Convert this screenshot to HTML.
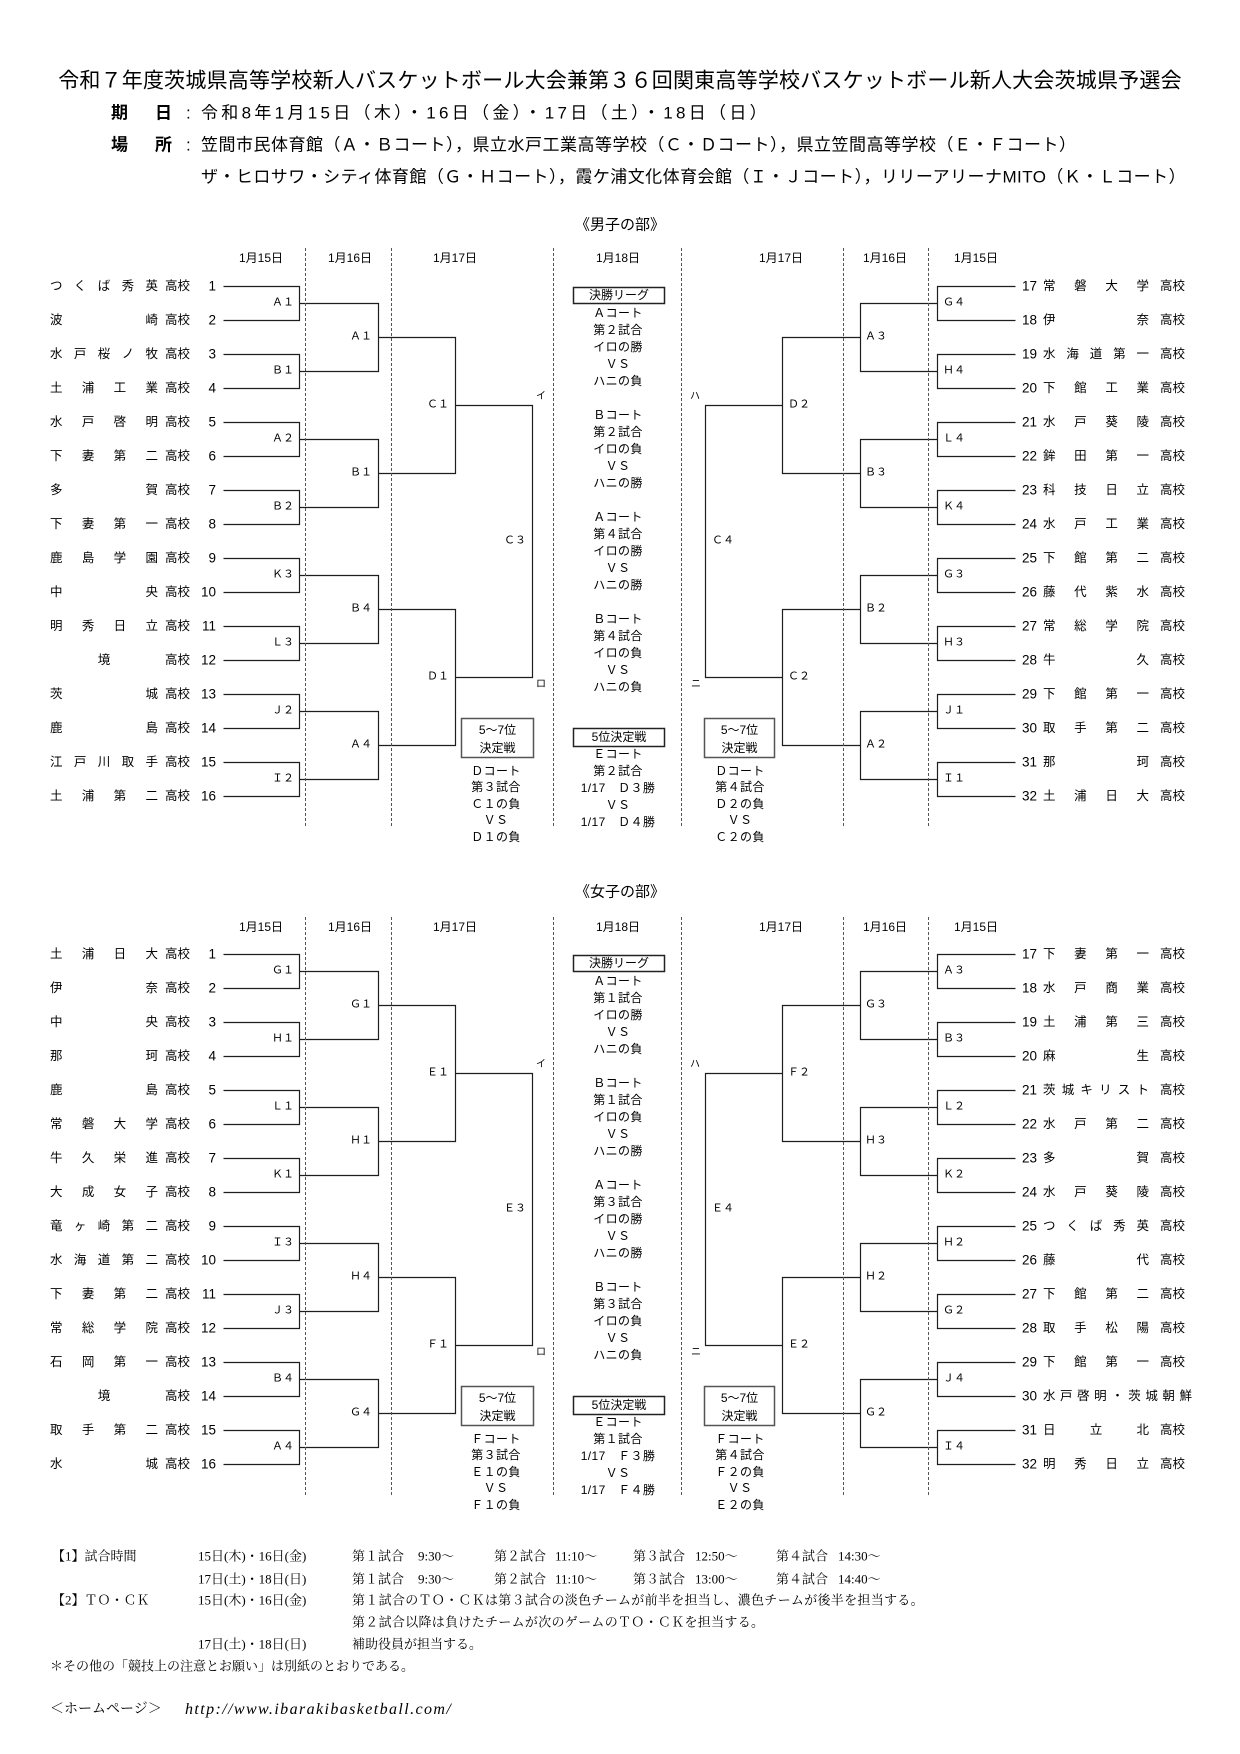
<!DOCTYPE html>
<html><head><meta charset="utf-8">
<style>
*{margin:0;padding:0;box-sizing:border-box}
body{width:1240px;height:1754px;position:relative;background:#fff;color:#000;overflow:hidden;
font-family:"Liberation Sans","Noto Sans CJK JP",sans-serif}
.a{position:absolute;white-space:nowrap;line-height:1}
.L{transform:translate(0,-50%)}
.R{transform:translate(-100%,-50%)}
.C{transform:translate(-50%,-50%)}
.row{position:absolute;left:0;width:0;height:0}
.nm{position:absolute;left:50px;width:108px;font-size:12.5px;line-height:1;text-align:justify;text-align-last:justify;transform:translateY(-50%)}
.nm2{position:absolute;left:1043px;width:106px;font-size:12.5px;line-height:1;text-align:justify;text-align-last:justify;transform:translateY(-50%)}
.cc{text-align:center;text-align-last:center}
.hk{position:absolute;left:165px;font-size:12.5px;line-height:1;transform:translateY(-50%);white-space:nowrap}
.hk2{position:absolute;left:1160px;font-size:12.5px;line-height:1;transform:translateY(-50%);white-space:nowrap}
.no{position:absolute;left:216px;font-size:13.5px;line-height:1;transform:translate(-100%,-50%)}
.no2{position:absolute;left:1022px;font-size:13.5px;line-height:1;transform:translateY(-50%)}
.lb{font-size:11px}
.dt{font-size:12px}
.mk{font-size:10px}
.mid{position:absolute;left:548px;width:140px;text-align:center;font-size:12px;line-height:17px;letter-spacing:0.4px}
.side{position:absolute;width:110px;text-align:center;font-size:12px;line-height:16.5px;letter-spacing:0.4px}
.bx{position:absolute;text-align:center;font-size:12px;line-height:18px}
.ft{font-family:"Liberation Serif","Noto Serif CJK SC",serif;font-size:13px}
</style></head><body>

<svg width="1240" height="1754" style="position:absolute;left:0;top:0">
<g fill="none" stroke="#1e1e1e" stroke-width="1.2" transform="translate(0.5,0.5)">
<g>
<path d="M223 286H299V320H223M223 354H299V388H223M223 422H299V456H223M223 490H299V524H223M223 558H299V592H223M223 626H299V660H223M223 694H299V728H223M223 762H299V796H223"/>
<path d="M299 303H378V371H299M299 439H378V507H299M299 575H378V643H299M299 711H378V779H299"/>
<path d="M378 337H455V473H378M378 609H455V745H378"/>
<path d="M455 405H532V677H455"/>
<path d="M1015 286H937V320H1015M1015 354H937V388H1015M1015 422H937V456H1015M1015 490H937V524H1015M1015 558H937V592H1015M1015 626H937V660H1015M1015 694H937V728H1015M1015 762H937V796H1015"/>
<path d="M937 303H860V371H937M937 439H860V507H937M937 575H860V643H937M937 711H860V779H937"/>
<path d="M860 337H782V473H860M860 609H782V745H860"/>
<path d="M782 405H705V677H782"/>
</g>
<g transform="translate(0,668)">
<path d="M223 286H299V320H223M223 354H299V388H223M223 422H299V456H223M223 490H299V524H223M223 558H299V592H223M223 626H299V660H223M223 694H299V728H223M223 762H299V796H223"/>
<path d="M299 303H378V371H299M299 439H378V507H299M299 575H378V643H299M299 711H378V779H299"/>
<path d="M378 337H455V473H378M378 609H455V745H378"/>
<path d="M455 405H532V677H455"/>
<path d="M1015 286H937V320H1015M1015 354H937V388H1015M1015 422H937V456H1015M1015 490H937V524H1015M1015 558H937V592H1015M1015 626H937V660H1015M1015 694H937V728H1015M1015 762H937V796H1015"/>
<path d="M937 303H860V371H937M937 439H860V507H937M937 575H860V643H937M937 711H860V779H937"/>
<path d="M860 337H782V473H860M860 609H782V745H860"/>
<path d="M782 405H705V677H782"/>
</g>
</g>
<g stroke="#555" stroke-width="1" stroke-dasharray="3 2">
<path d="M305.5 248V826M391.5 248V826M553.5 248V826M681.5 248V826M843.5 248V826M928.5 248V826"/>
<path d="M305.5 917V1495M391.5 917V1495M553.5 917V1495M681.5 917V1495M843.5 917V1495M928.5 917V1495"/>
</g>
<g fill="none" stroke-width="1.5">
<rect x="573.5" y="287.5" width="91" height="16" stroke="#222"/>
<rect x="573.5" y="728.5" width="91" height="18" stroke="#222"/>
<rect x="461.5" y="718.5" width="72" height="39" stroke="#555"/>
<rect x="704.5" y="718.5" width="70" height="39" stroke="#555"/>
<rect x="573.5" y="955.5" width="91" height="16" stroke="#222"/>
<rect x="573.5" y="1396.5" width="91" height="18" stroke="#222"/>
<rect x="461.5" y="1386.5" width="72" height="39" stroke="#555"/>
<rect x="704.5" y="1386.5" width="70" height="39" stroke="#555"/>
</g>
</svg>

<!-- Header -->
<div class="a" style="left:0;width:1240px;top:81px;transform:translateY(-50%);text-align:center;font-size:21px;letter-spacing:0.2px">令和７年度茨城県高等学校新人バスケットボール大会兼第３６回関東高等学校バスケットボール新人大会茨城県予選会</div>
<div class="a L" style="left:111px;top:113px;font-size:17px;font-weight:bold">期</div>
<div class="a L" style="left:155px;top:113px;font-size:17px;font-weight:bold">日</div>
<div class="a L" style="left:186px;top:113px;font-size:17px">:</div>
<div class="a L" style="left:201px;top:113px;font-size:17px;letter-spacing:3.3px">令和8年1月15日（木）・16日（金）・17日（土）・18日（日）</div>
<div class="a L" style="left:111px;top:145px;font-size:17px;font-weight:bold">場</div>
<div class="a L" style="left:155px;top:145px;font-size:17px;font-weight:bold">所</div>
<div class="a L" style="left:186px;top:145px;font-size:17px">:</div>
<div class="a L" style="left:201px;top:145px;font-size:17px;letter-spacing:0.5px">笠間市民体育館（Ａ・Ｂコート），県立水戸工業高等学校（Ｃ・Ｄコート），県立笠間高等学校（Ｅ・Ｆコート）</div>
<div class="a L" style="left:201px;top:177px;font-size:17px;letter-spacing:0.45px">ザ・ヒロサワ・シティ体育館（Ｇ・Ｈコート），霞ケ浦文化体育会館（Ｉ・Ｊコート），リリーアリーナMITO（Ｋ・Ｌコート）</div>

<!-- Men's section -->
<div class="a C" style="left:620px;top:225px;font-size:15px">《男子の部》</div>
<div class="a C dt" style="left:261px;top:258px">1月15日</div>
<div class="a C dt" style="left:350px;top:258px">1月16日</div>
<div class="a C dt" style="left:455px;top:258px">1月17日</div>
<div class="a C dt" style="left:618px;top:258px">1月18日</div>
<div class="a C dt" style="left:781px;top:258px">1月17日</div>
<div class="a C dt" style="left:885px;top:258px">1月16日</div>
<div class="a C dt" style="left:976px;top:258px">1月15日</div>

<div class="row" style="top:286px"><div class="nm">つ く ば 秀 英</div><div class="hk">高校</div><div class="no">1</div></div>
<div class="row" style="top:320px"><div class="nm">波 崎</div><div class="hk">高校</div><div class="no">2</div></div>
<div class="row" style="top:354px"><div class="nm">水 戸 桜 ノ 牧</div><div class="hk">高校</div><div class="no">3</div></div>
<div class="row" style="top:388px"><div class="nm">土 浦 工 業</div><div class="hk">高校</div><div class="no">4</div></div>
<div class="row" style="top:422px"><div class="nm">水 戸 啓 明</div><div class="hk">高校</div><div class="no">5</div></div>
<div class="row" style="top:456px"><div class="nm">下 妻 第 二</div><div class="hk">高校</div><div class="no">6</div></div>
<div class="row" style="top:490px"><div class="nm">多 賀</div><div class="hk">高校</div><div class="no">7</div></div>
<div class="row" style="top:524px"><div class="nm">下 妻 第 一</div><div class="hk">高校</div><div class="no">8</div></div>
<div class="row" style="top:558px"><div class="nm">鹿 島 学 園</div><div class="hk">高校</div><div class="no">9</div></div>
<div class="row" style="top:592px"><div class="nm">中 央</div><div class="hk">高校</div><div class="no">10</div></div>
<div class="row" style="top:626px"><div class="nm">明 秀 日 立</div><div class="hk">高校</div><div class="no">11</div></div>
<div class="row" style="top:660px"><div class="nm cc">境</div><div class="hk">高校</div><div class="no">12</div></div>
<div class="row" style="top:694px"><div class="nm">茨 城</div><div class="hk">高校</div><div class="no">13</div></div>
<div class="row" style="top:728px"><div class="nm">鹿 島</div><div class="hk">高校</div><div class="no">14</div></div>
<div class="row" style="top:762px"><div class="nm">江 戸 川 取 手</div><div class="hk">高校</div><div class="no">15</div></div>
<div class="row" style="top:796px"><div class="nm">土 浦 第 二</div><div class="hk">高校</div><div class="no">16</div></div>

<div class="row" style="top:286px"><div class="no2">17</div><div class="nm2">常 磐 大 学</div><div class="hk2">高校</div></div>
<div class="row" style="top:320px"><div class="no2">18</div><div class="nm2">伊 奈</div><div class="hk2">高校</div></div>
<div class="row" style="top:354px"><div class="no2">19</div><div class="nm2">水 海 道 第 一</div><div class="hk2">高校</div></div>
<div class="row" style="top:388px"><div class="no2">20</div><div class="nm2">下 館 工 業</div><div class="hk2">高校</div></div>
<div class="row" style="top:422px"><div class="no2">21</div><div class="nm2">水 戸 葵 陵</div><div class="hk2">高校</div></div>
<div class="row" style="top:456px"><div class="no2">22</div><div class="nm2">鉾 田 第 一</div><div class="hk2">高校</div></div>
<div class="row" style="top:490px"><div class="no2">23</div><div class="nm2">科 技 日 立</div><div class="hk2">高校</div></div>
<div class="row" style="top:524px"><div class="no2">24</div><div class="nm2">水 戸 工 業</div><div class="hk2">高校</div></div>
<div class="row" style="top:558px"><div class="no2">25</div><div class="nm2">下 館 第 二</div><div class="hk2">高校</div></div>
<div class="row" style="top:592px"><div class="no2">26</div><div class="nm2">藤 代 紫 水</div><div class="hk2">高校</div></div>
<div class="row" style="top:626px"><div class="no2">27</div><div class="nm2">常 総 学 院</div><div class="hk2">高校</div></div>
<div class="row" style="top:660px"><div class="no2">28</div><div class="nm2">牛 久</div><div class="hk2">高校</div></div>
<div class="row" style="top:694px"><div class="no2">29</div><div class="nm2">下 館 第 一</div><div class="hk2">高校</div></div>
<div class="row" style="top:728px"><div class="no2">30</div><div class="nm2">取 手 第 二</div><div class="hk2">高校</div></div>
<div class="row" style="top:762px"><div class="no2">31</div><div class="nm2">那 珂</div><div class="hk2">高校</div></div>
<div class="row" style="top:796px"><div class="no2">32</div><div class="nm2">土 浦 日 大</div><div class="hk2">高校</div></div>

<!-- men's labels left -->
<div class="a R lb" style="left:294px;top:303px">Ａ１</div>
<div class="a R lb" style="left:294px;top:371px">Ｂ１</div>
<div class="a R lb" style="left:294px;top:439px">Ａ２</div>
<div class="a R lb" style="left:294px;top:507px">Ｂ２</div>
<div class="a R lb" style="left:294px;top:575px">Ｋ３</div>
<div class="a R lb" style="left:294px;top:643px">Ｌ３</div>
<div class="a R lb" style="left:294px;top:711px">Ｊ２</div>
<div class="a R lb" style="left:294px;top:779px">Ｉ２</div>
<div class="a R lb" style="left:372px;top:337px">Ａ１</div>
<div class="a R lb" style="left:372px;top:473px">Ｂ１</div>
<div class="a R lb" style="left:372px;top:609px">Ｂ４</div>
<div class="a R lb" style="left:372px;top:745px">Ａ４</div>
<div class="a R lb" style="left:449px;top:405px">Ｃ１</div>
<div class="a R lb" style="left:449px;top:677px">Ｄ１</div>
<div class="a R lb" style="left:526px;top:541px">Ｃ３</div>
<!-- men's labels right -->
<div class="a L lb" style="left:943px;top:303px">Ｇ４</div>
<div class="a L lb" style="left:943px;top:371px">Ｈ４</div>
<div class="a L lb" style="left:943px;top:439px">Ｌ４</div>
<div class="a L lb" style="left:943px;top:507px">Ｋ４</div>
<div class="a L lb" style="left:943px;top:575px">Ｇ３</div>
<div class="a L lb" style="left:943px;top:643px">Ｈ３</div>
<div class="a L lb" style="left:943px;top:711px">Ｊ１</div>
<div class="a L lb" style="left:943px;top:779px">Ｉ１</div>
<div class="a L lb" style="left:865px;top:337px">Ａ３</div>
<div class="a L lb" style="left:865px;top:473px">Ｂ３</div>
<div class="a L lb" style="left:865px;top:609px">Ｂ２</div>
<div class="a L lb" style="left:865px;top:745px">Ａ２</div>
<div class="a L lb" style="left:788px;top:405px">Ｄ２</div>
<div class="a L lb" style="left:788px;top:677px">Ｃ２</div>
<div class="a L lb" style="left:712px;top:541px">Ｃ４</div>
<div class="a C mk" style="left:541px;top:397px">イ</div>
<div class="a C mk" style="left:541px;top:685px">ロ</div>
<div class="a C mk" style="left:695px;top:397px">ハ</div>
<div class="a C mk" style="left:696px;top:685px">ニ</div>

<!-- men's middle -->
<div class="bx" style="left:573px;width:92px;top:286px;height:18px">決勝リーグ</div>
<div class="mid" style="top:304.5px">Ａコート<br>第２試合<br>イロの勝<br>ＶＳ<br>ハニの負<br>&nbsp;<br>Ｂコート<br>第２試合<br>イロの負<br>ＶＳ<br>ハニの勝<br>&nbsp;<br>Ａコート<br>第４試合<br>イロの勝<br>ＶＳ<br>ハニの勝<br>&nbsp;<br>Ｂコート<br>第４試合<br>イロの負<br>ＶＳ<br>ハニの負</div>
<div class="bx" style="left:573px;width:92px;top:728px;height:19px">5位決定戦</div>
<div class="mid" style="top:745.5px">Ｅコート<br>第２試合<br>1/17　Ｄ３勝<br>ＶＳ<br>1/17　Ｄ４勝</div>
<div class="bx" style="left:461px;width:73px;top:721px">5〜7位<br>決定戦</div>
<div class="side" style="left:441px;top:762.5px">Ｄコート<br>第３試合<br>Ｃ１の負<br>ＶＳ<br>Ｄ１の負</div>
<div class="bx" style="left:704px;width:71px;top:721px">5〜7位<br>決定戦</div>
<div class="side" style="left:685px;top:762.5px">Ｄコート<br>第４試合<br>Ｄ２の負<br>ＶＳ<br>Ｃ２の負</div>

<!-- Women's section -->
<div class="a C" style="left:620px;top:892px;font-size:15px">《女子の部》</div>
<div class="a C dt" style="left:261px;top:927px">1月15日</div>
<div class="a C dt" style="left:350px;top:927px">1月16日</div>
<div class="a C dt" style="left:455px;top:927px">1月17日</div>
<div class="a C dt" style="left:618px;top:927px">1月18日</div>
<div class="a C dt" style="left:781px;top:927px">1月17日</div>
<div class="a C dt" style="left:885px;top:927px">1月16日</div>
<div class="a C dt" style="left:976px;top:927px">1月15日</div>

<div class="row" style="top:954px"><div class="nm">土 浦 日 大</div><div class="hk">高校</div><div class="no">1</div></div>
<div class="row" style="top:988px"><div class="nm">伊 奈</div><div class="hk">高校</div><div class="no">2</div></div>
<div class="row" style="top:1022px"><div class="nm">中 央</div><div class="hk">高校</div><div class="no">3</div></div>
<div class="row" style="top:1056px"><div class="nm">那 珂</div><div class="hk">高校</div><div class="no">4</div></div>
<div class="row" style="top:1090px"><div class="nm">鹿 島</div><div class="hk">高校</div><div class="no">5</div></div>
<div class="row" style="top:1124px"><div class="nm">常 磐 大 学</div><div class="hk">高校</div><div class="no">6</div></div>
<div class="row" style="top:1158px"><div class="nm">牛 久 栄 進</div><div class="hk">高校</div><div class="no">7</div></div>
<div class="row" style="top:1192px"><div class="nm">大 成 女 子</div><div class="hk">高校</div><div class="no">8</div></div>
<div class="row" style="top:1226px"><div class="nm">竜 ヶ 崎 第 二</div><div class="hk">高校</div><div class="no">9</div></div>
<div class="row" style="top:1260px"><div class="nm">水 海 道 第 二</div><div class="hk">高校</div><div class="no">10</div></div>
<div class="row" style="top:1294px"><div class="nm">下 妻 第 二</div><div class="hk">高校</div><div class="no">11</div></div>
<div class="row" style="top:1328px"><div class="nm">常 総 学 院</div><div class="hk">高校</div><div class="no">12</div></div>
<div class="row" style="top:1362px"><div class="nm">石 岡 第 一</div><div class="hk">高校</div><div class="no">13</div></div>
<div class="row" style="top:1396px"><div class="nm cc">境</div><div class="hk">高校</div><div class="no">14</div></div>
<div class="row" style="top:1430px"><div class="nm">取 手 第 二</div><div class="hk">高校</div><div class="no">15</div></div>
<div class="row" style="top:1464px"><div class="nm">水 城</div><div class="hk">高校</div><div class="no">16</div></div>

<div class="row" style="top:954px"><div class="no2">17</div><div class="nm2">下 妻 第 一</div><div class="hk2">高校</div></div>
<div class="row" style="top:988px"><div class="no2">18</div><div class="nm2">水 戸 商 業</div><div class="hk2">高校</div></div>
<div class="row" style="top:1022px"><div class="no2">19</div><div class="nm2">土 浦 第 三</div><div class="hk2">高校</div></div>
<div class="row" style="top:1056px"><div class="no2">20</div><div class="nm2">麻 生</div><div class="hk2">高校</div></div>
<div class="row" style="top:1090px"><div class="no2">21</div><div class="nm2">茨 城 キ リ ス ト</div><div class="hk2">高校</div></div>
<div class="row" style="top:1124px"><div class="no2">22</div><div class="nm2">水 戸 第 二</div><div class="hk2">高校</div></div>
<div class="row" style="top:1158px"><div class="no2">23</div><div class="nm2">多 賀</div><div class="hk2">高校</div></div>
<div class="row" style="top:1192px"><div class="no2">24</div><div class="nm2">水 戸 葵 陵</div><div class="hk2">高校</div></div>
<div class="row" style="top:1226px"><div class="no2">25</div><div class="nm2">つ く ば 秀 英</div><div class="hk2">高校</div></div>
<div class="row" style="top:1260px"><div class="no2">26</div><div class="nm2">藤 代</div><div class="hk2">高校</div></div>
<div class="row" style="top:1294px"><div class="no2">27</div><div class="nm2">下 館 第 二</div><div class="hk2">高校</div></div>
<div class="row" style="top:1328px"><div class="no2">28</div><div class="nm2">取 手 松 陽</div><div class="hk2">高校</div></div>
<div class="row" style="top:1362px"><div class="no2">29</div><div class="nm2">下 館 第 一</div><div class="hk2">高校</div></div>
<div class="row" style="top:1396px"><div class="no2">30</div><div class="nm2" style="width:149px">水 戸 啓 明 ・ 茨 城 朝 鮮</div></div>
<div class="row" style="top:1430px"><div class="no2">31</div><div class="nm2">日 立 北</div><div class="hk2">高校</div></div>
<div class="row" style="top:1464px"><div class="no2">32</div><div class="nm2">明 秀 日 立</div><div class="hk2">高校</div></div>

<!-- women's labels left -->
<div class="a R lb" style="left:294px;top:971px">Ｇ１</div>
<div class="a R lb" style="left:294px;top:1039px">Ｈ１</div>
<div class="a R lb" style="left:294px;top:1107px">Ｌ１</div>
<div class="a R lb" style="left:294px;top:1175px">Ｋ１</div>
<div class="a R lb" style="left:294px;top:1243px">Ｉ３</div>
<div class="a R lb" style="left:294px;top:1311px">Ｊ３</div>
<div class="a R lb" style="left:294px;top:1379px">Ｂ４</div>
<div class="a R lb" style="left:294px;top:1447px">Ａ４</div>
<div class="a R lb" style="left:372px;top:1005px">Ｇ１</div>
<div class="a R lb" style="left:372px;top:1141px">Ｈ１</div>
<div class="a R lb" style="left:372px;top:1277px">Ｈ４</div>
<div class="a R lb" style="left:372px;top:1413px">Ｇ４</div>
<div class="a R lb" style="left:449px;top:1073px">Ｅ１</div>
<div class="a R lb" style="left:449px;top:1345px">Ｆ１</div>
<div class="a R lb" style="left:526px;top:1209px">Ｅ３</div>
<!-- women's labels right -->
<div class="a L lb" style="left:943px;top:971px">Ａ３</div>
<div class="a L lb" style="left:943px;top:1039px">Ｂ３</div>
<div class="a L lb" style="left:943px;top:1107px">Ｌ２</div>
<div class="a L lb" style="left:943px;top:1175px">Ｋ２</div>
<div class="a L lb" style="left:943px;top:1243px">Ｈ２</div>
<div class="a L lb" style="left:943px;top:1311px">Ｇ２</div>
<div class="a L lb" style="left:943px;top:1379px">Ｊ４</div>
<div class="a L lb" style="left:943px;top:1447px">Ｉ４</div>
<div class="a L lb" style="left:865px;top:1005px">Ｇ３</div>
<div class="a L lb" style="left:865px;top:1141px">Ｈ３</div>
<div class="a L lb" style="left:865px;top:1277px">Ｈ２</div>
<div class="a L lb" style="left:865px;top:1413px">Ｇ２</div>
<div class="a L lb" style="left:788px;top:1073px">Ｆ２</div>
<div class="a L lb" style="left:788px;top:1345px">Ｅ２</div>
<div class="a L lb" style="left:712px;top:1209px">Ｅ４</div>
<div class="a C mk" style="left:541px;top:1065px">イ</div>
<div class="a C mk" style="left:541px;top:1353px">ロ</div>
<div class="a C mk" style="left:695px;top:1065px">ハ</div>
<div class="a C mk" style="left:696px;top:1353px">ニ</div>

<!-- women's middle -->
<div class="bx" style="left:573px;width:92px;top:954px;height:18px">決勝リーグ</div>
<div class="mid" style="top:972.5px">Ａコート<br>第１試合<br>イロの勝<br>ＶＳ<br>ハニの負<br>&nbsp;<br>Ｂコート<br>第１試合<br>イロの負<br>ＶＳ<br>ハニの勝<br>&nbsp;<br>Ａコート<br>第３試合<br>イロの勝<br>ＶＳ<br>ハニの勝<br>&nbsp;<br>Ｂコート<br>第３試合<br>イロの負<br>ＶＳ<br>ハニの負</div>
<div class="bx" style="left:573px;width:92px;top:1396px;height:19px">5位決定戦</div>
<div class="mid" style="top:1413.5px">Ｅコート<br>第１試合<br>1/17　Ｆ３勝<br>ＶＳ<br>1/17　Ｆ４勝</div>
<div class="bx" style="left:461px;width:73px;top:1389px">5〜7位<br>決定戦</div>
<div class="side" style="left:441px;top:1430.5px">Ｆコート<br>第３試合<br>Ｅ１の負<br>ＶＳ<br>Ｆ１の負</div>
<div class="bx" style="left:704px;width:71px;top:1389px">5〜7位<br>決定戦</div>
<div class="side" style="left:685px;top:1430.5px">Ｆコート<br>第４試合<br>Ｆ２の負<br>ＶＳ<br>Ｅ２の負</div>

<!-- Footer -->
<div class="a L ft" style="left:52px;top:1556px">【1】試合時間</div>
<div class="a L ft" style="left:198px;top:1556px">15日(木)・16日(金)</div>
<div class="a L ft" style="left:352px;top:1556px">第１試合</div>
<div class="a L ft" style="left:418px;top:1556px">9:30〜</div>
<div class="a L ft" style="left:494px;top:1556px">第２試合</div>
<div class="a L ft" style="left:555px;top:1556px">11:10〜</div>
<div class="a L ft" style="left:633px;top:1556px">第３試合</div>
<div class="a L ft" style="left:695px;top:1556px">12:50〜</div>
<div class="a L ft" style="left:776px;top:1556px">第４試合</div>
<div class="a L ft" style="left:838px;top:1556px">14:30〜</div>

<div class="a L ft" style="left:198px;top:1579px">17日(土)・18日(日)</div>
<div class="a L ft" style="left:352px;top:1579px">第１試合</div>
<div class="a L ft" style="left:418px;top:1579px">9:30〜</div>
<div class="a L ft" style="left:494px;top:1579px">第２試合</div>
<div class="a L ft" style="left:555px;top:1579px">11:10〜</div>
<div class="a L ft" style="left:633px;top:1579px">第３試合</div>
<div class="a L ft" style="left:695px;top:1579px">13:00〜</div>
<div class="a L ft" style="left:776px;top:1579px">第４試合</div>
<div class="a L ft" style="left:838px;top:1579px">14:40〜</div>

<div class="a L ft" style="left:52px;top:1600px">【2】ＴＯ・ＣＫ</div>
<div class="a L ft" style="left:198px;top:1600px">15日(木)・16日(金)</div>
<div class="a L ft" style="left:352px;top:1600px;letter-spacing:0.3px">第１試合のＴＯ・ＣＫは第３試合の淡色チームが前半を担当し、濃色チームが後半を担当する。</div>
<div class="a L ft" style="left:352px;top:1622px;letter-spacing:0.3px">第２試合以降は負けたチームが次のゲームのＴＯ・ＣＫを担当する。</div>
<div class="a L ft" style="left:198px;top:1644px">17日(土)・18日(日)</div>
<div class="a L ft" style="left:352px;top:1644px">補助役員が担当する。</div>
<div class="a L ft" style="left:50px;top:1666px">＊その他の「競技上の注意とお願い」は別紙のとおりである。</div>
<div class="a L ft" style="left:50px;top:1710px;font-size:14px">＜ホームページ＞</div>
<div class="a L" style="left:185px;top:1710px;font-family:'Liberation Serif',serif;font-style:italic;font-size:16px;letter-spacing:1.4px">http://www.ibarakibasketball.com/</div>

</body></html>
